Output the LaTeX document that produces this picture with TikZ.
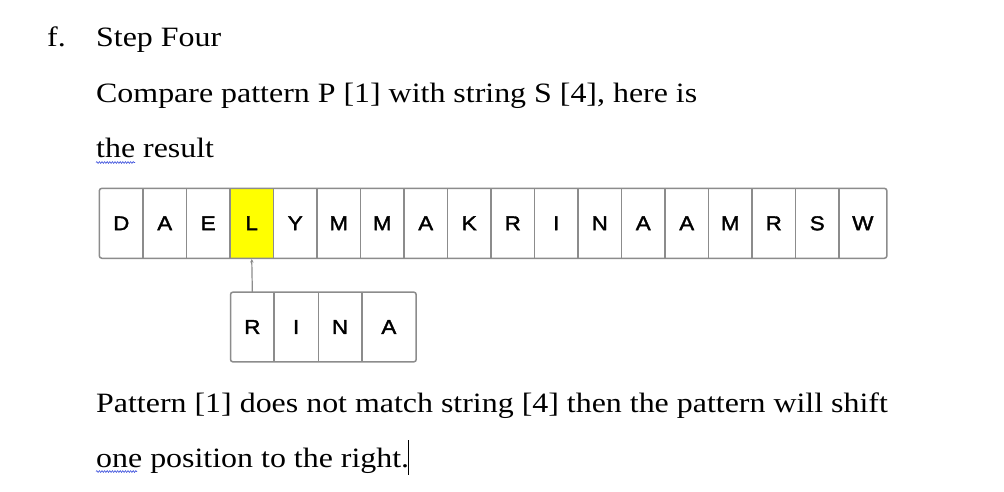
\documentclass[tikz,border=0pt]{standalone}
\usepackage{fontspec}
\setmainfont{Liberation Serif}[FakeStretch=1.14]
\newfontfamily\cellfont{Liberation Sans}[FakeStretch=1.12,FakeBold=1.8]
\usetikzlibrary{arrows.meta,decorations.pathmorphing}
\definecolor{boxgray}{RGB}{140,140,140}
\definecolor{markyellow}{RGB}{255,255,0}
\definecolor{squigblue}{RGB}{60,80,220}
\tikzset{
  bodytext/.style={anchor=base west,inner sep=0pt,font=\fontsize{28}{30}\selectfont},
  cellbox/.style={inner sep=0pt,minimum height=69.5pt,font=\cellfont\fontsize{20}{22}\selectfont},
  frame/.style={draw=boxgray,line width=1.5pt,rounded corners=2.5pt},
  divider/.style={draw=boxgray,line width=1.5pt},
  squiggle/.style={draw=squigblue,line width=0.6pt,decorate,decoration={snake,amplitude=0.9pt,segment length=2.6pt}},
}
\begin{document}
\begin{tikzpicture}[x=1pt,y=-1pt]
\useasboundingbox[fill=white] (0,0) rectangle (1004,491);
% texts
\node[bodytext] (lbl) at (47,46) {f.};
\node[bodytext] (t1) at (96,46) {Step Four};
\node[bodytext] (t2) at (96,102.5) {Compare pattern P [1] with string S [4], here is};
\node[bodytext] (t3) at (96,157) {the result};
\node[bodytext] (t4) at (96,412) {Pattern [1] does not match string [4] then the pattern will shift};
\node[bodytext] (t5) at (96,467) {one position to the right.};
% string cells
\foreach \c [count=\k from 0] in {D,A,E,L,Y,M,M,A,K,R,I,N,A,A,M,R,S} {
  \node[cellbox,minimum width=43.5pt] (s\k) at ({99.5+43.5*\k+21.75},223.3) {\c};
}
\node[cellbox,minimum width=47.7pt] (s17) at (862.85,223.3) {W};
\fill[markyellow] (s3.north west) rectangle (s3.south east);
\node[cellbox,minimum width=43.5pt] at (s3) {L};
\draw[frame] (s0.north west) rectangle (s17.south east);
\foreach \k in {0,...,16} {\draw[divider] (s\k.north east) -- (s\k.south east);}
% pattern cells
\node[cellbox,minimum width=43.3pt,minimum height=69.4pt] (p0) at (252.35,327) {R};
\node[cellbox,minimum width=44.3pt,minimum height=69.4pt] (p1) at (296.15,327) {I};
\node[cellbox,minimum width=43.4pt,minimum height=69.4pt] (p2) at (340,327) {N};
\node[cellbox,minimum width=54.3pt,minimum height=69.4pt] (p3) at (388.85,327) {A};
\draw[frame] (p0.north west) rectangle (p3.south east);
\foreach \k in {0,1,2} {\draw[divider] (p\k.north east) -- (p\k.south east);}
% arrow
\draw[boxgray,line width=1.2pt,-{Stealth[length=3.5pt,width=3.5pt]}] (p0.north) -- ([yshift=-0.8pt]s3.south);
% spelling marks and cursor
\coordinate (q1a) at (96,162.5);
\coordinate (q1b) at (135,162.5);
\draw[squiggle] (q1a) -- (q1b);
\coordinate (q2a) at (96,471.5);
\coordinate (q2b) at (137,471.5);
\draw[squiggle] (q2a) -- (q2b);
\coordinate (cur1) at (408,440);
\coordinate (cur2) at (408,475);
\draw[black,line width=1pt] (cur1) -- (cur2);
\end{tikzpicture}
\end{document}
